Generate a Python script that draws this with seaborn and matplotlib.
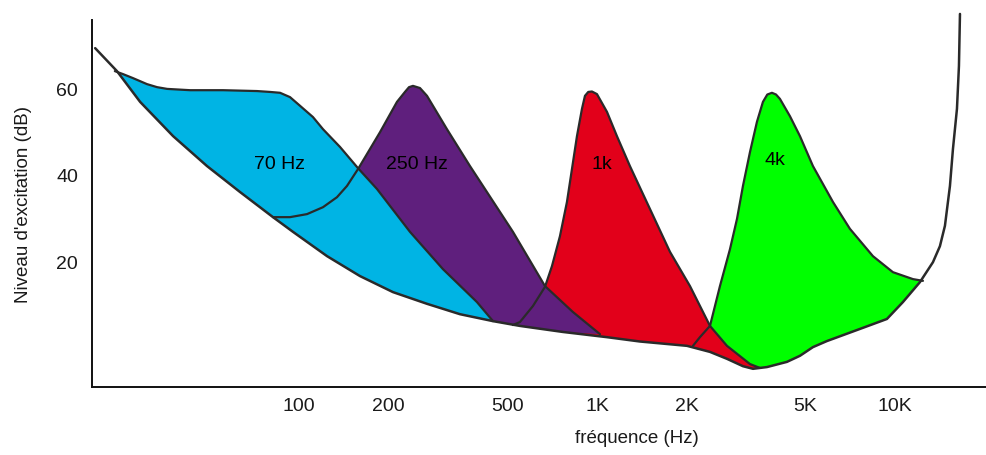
import matplotlib
matplotlib.use("Agg")
import matplotlib.pyplot as plt
import seaborn as sns
from matplotlib.ticker import FixedLocator, NullLocator

# ---- data (Hz, dB) ----
thr_hz = [20.7, 24.5, 29.3, 37.8, 49.1, 63.4, 81.8, 95.5, 124.2, 160.2, 206.7, 268.9,
          347.0, 447.8, 551, 769, 1080, 1393, 2005, 2395, 2731, 3090, 3339, 3720, 4342,
          4800, 5306, 5911, 7630, 9400, 10636, 12130, 13414, 14158, 14717, 15298, 15656,
          16150, 16400, 16530]
thr_db = [69.2, 63.9, 56.8, 48.9, 42.0, 36.0, 30.2, 26.8, 21.2, 16.6, 12.9, 10.2,
          7.8, 6.2, 5.1, 3.7, 2.5, 1.5, 0.5, -0.9, -2.5, -4.2, -4.8, -4.4, -3.2,
          -1.8, 0.2, 1.6, 4.4, 6.7, 10.6, 15.2, 19.8, 23.5, 28.2, 37.4, 45.9,
          55.2, 65.1, 77.1]

m70_hz = [24.1, 25.7, 27.7, 30.9, 33.4, 36.1, 43.1, 55.6, 72.3, 79.9, 86.4, 93.3, 100.8,
          111.4, 120.4, 137.3, 157.8, 182.7, 235.8, 304.2, 395.6, 447.8]
m70_db = [63.9, 63.2, 62.3, 60.9, 60.2, 59.8, 59.5, 59.5, 59.3, 59.1, 58.9, 57.9, 55.9,
          53.3, 50.5, 46.4, 41.5, 36.7, 26.8, 18.2, 10.6, 6.2]

m250_hz = [81.8, 93.3, 106.4, 120.4, 134.1, 144.9, 157.8, 187.0, 213.2, 226.8, 234.0,
           241.3, 254.7, 268.9, 313.8, 374.8, 522.6, 669.1, 830.7, 1023.5]
m250_db = [30.2, 30.2, 30.9, 32.5, 34.8, 37.4, 41.3, 49.8, 56.8, 59.1, 60.2,
           60.5, 60.0, 58.2, 50.5, 42.0, 26.8, 14.3, 8.3, 3.2]

m1k_hz = [522.6, 551.5, 609.9, 669.1, 706.3, 751.2, 793.0, 824.3, 856.8, 890.6, 911.5,
          935.0, 962.0, 1000, 1080.5, 1167, 1290, 1506, 1758, 2052, 2395, 2731, 3262, 3524]
m1k_db = [5.3, 6.0, 9.7, 14.1, 18.9, 25.8, 33.7, 41.3, 48.9, 55.2, 58.2,
          59.1, 59.2, 58.6, 54.5, 48.9, 42.0, 32.1, 22.2, 14.3, 5.1, 0.5, -3.7, -4.6]

m4k_hz = [2100, 2216, 2395, 2587, 2795, 2951, 3090, 3262, 3443, 3606, 3730, 3866, 3990,
          4112, 4443, 4800, 5306, 6195, 7063, 8436, 9846, 11494, 12417]
m4k_db = [0.5, 2.5, 5.1, 14.3, 22.8, 29.8, 37.4, 45.2, 52.2, 56.8, 58.5, 58.9, 58.5,
          57.5, 53.5, 48.9, 42.0, 33.7, 27.5, 21.2, 17.5, 15.9, 15.5]

mask_names = ["70 Hz", "250 Hz", "1k", "4k"]
label_hz = [86, 249, 1040, 3950]
label_db = [42.5, 42.5, 42.5, 43.4]

xtick_hz = [100, 200, 500, 1000, 2000, 5000, 10000]
xtick_labels = ["100", "200", "500", "1K", "2K", "5K", "10K"]
ytick_db = [0, 20, 40, 60]
ytick_labels = ["", "20", "40", "60"]

# ---- style ----
sns.set_style("white")
plt.rcParams["font.family"] = ["Liberation Sans", "DejaVu Sans"]

fill_colors = {"70 Hz": "#00B4E4", "250 Hz": "#5F1F7D", "1k": "#E2001A", "4k": "#00FF00"}
edge = "#2a2a2a"
txt = "#1a1a1a"

fig = plt.figure(figsize=(9.87, 4.56), dpi=100)
ax = fig.add_axes([92 / 987, 68 / 456, 1 - 92 / 987, (388 - 21) / 456])

curves = {"70 Hz": (m70_hz, m70_db), "250 Hz": (m250_hz, m250_db),
          "1k": (m1k_hz, m1k_db), "4k": (m4k_hz, m4k_db)}


def region(hz, db):
    lo, hi = hz[0], hz[-1]
    pts = [(f, d) for f, d in zip(thr_hz, thr_db) if lo < f < hi]
    px = list(hz) + [f for f, _ in reversed(pts)]
    py = list(db) + [d for _, d in reversed(pts)]
    return px, py


# fills: higher frequency first, lower on top
for name in ["4k", "1k", "250 Hz", "70 Hz"]:
    hz, db = curves[name]
    px, py = region(hz, db)
    ax.fill(px, py, color=fill_colors[name], lw=0, zorder=1)

# outlines
for name in ["4k", "1k", "250 Hz", "70 Hz"]:
    hz, db = curves[name]
    sns.lineplot(x=hz, y=db, ax=ax, color=edge, lw=1.6, estimator=None, sort=False,
                 zorder=3)
sns.lineplot(x=thr_hz, y=thr_db, ax=ax, color=edge, lw=1.8, estimator=None, sort=False,
             zorder=3)
for ln in ax.lines:
    ln.set_clip_on(False)
    ln.set_solid_joinstyle("round")
    ln.set_solid_capstyle("round")

for name, fx, fy in zip(mask_names, label_hz, label_db):
    ax.text(fx, fy, name, ha="center", va="center", fontsize=14, color="black", zorder=4)

ax.set_xscale("log")
ax.set_xlim(20.2, 20370)
ax.set_ylim(-9.0, 75.7)
ax.xaxis.set_major_locator(FixedLocator(xtick_hz))
ax.xaxis.set_minor_locator(NullLocator())
ax.set_xticklabels(xtick_labels)
ax.yaxis.set_major_locator(FixedLocator(ytick_db))
ax.set_yticklabels(ytick_labels)
ax.tick_params(axis="both", direction="in", length=9.5, width=1.0, colors="#222222",
               labelsize=14, labelcolor=txt)
ax.tick_params(axis="x", pad=7)
ax.tick_params(axis="y", pad=10)

for s in ["top", "right"]:
    ax.spines[s].set_visible(False)
for s in ["left", "bottom"]:
    ax.spines[s].set_color("#111111")
    ax.spines[s].set_linewidth(1.4)

ax.set_xlabel("fréquence (Hz)", fontsize=13.5, color=txt)
ax.set_ylabel("Niveau d'excitation (dB)", fontsize=13.5, color=txt)
ax.xaxis.set_label_coords(0.609, -0.115)
ax.yaxis.set_label_coords(-0.067, 0.5)

fig.savefig("out.png", dpi=100)
